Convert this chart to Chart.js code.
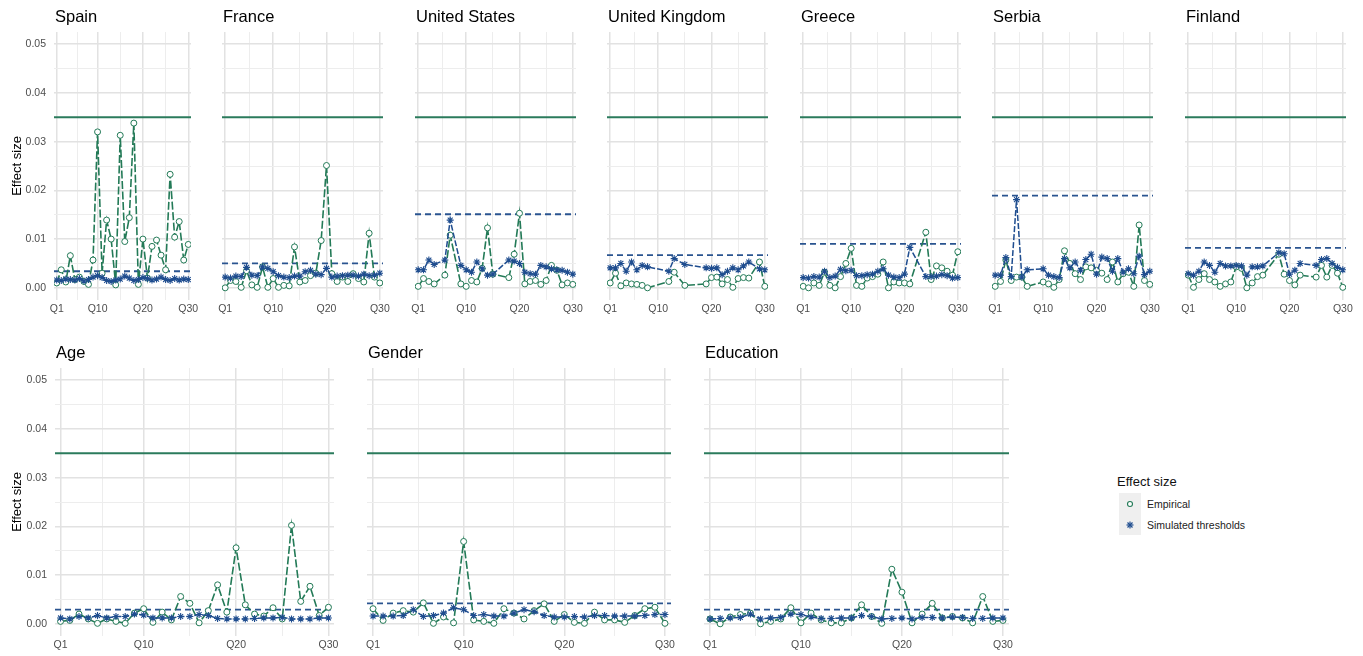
<!DOCTYPE html>
<html>
<head>
<meta charset="utf-8">
<script src="https://cdn.jsdelivr.net/npm/chart.js@4.4.1/dist/chart.umd.min.js"></script>
<style>
html,body{margin:0;padding:0;background:#fff;width:1363px;height:656px;overflow:hidden;font-family:"Liberation Sans",Arial,Helvetica,sans-serif;}
.panel{position:absolute;}
#legend{position:absolute;left:1117px;top:474px;color:#111;}
#legend .ttl{font-size:13px;margin-bottom:4px;}
#legend .row{display:flex;align-items:center;height:21px;}
#legend .key{width:22px;height:21px;background:#efefef;display:flex;align-items:center;justify-content:center;margin-left:2px;}
#legend .lab{font-size:10.5px;margin-left:6px;color:#222;}
</style>
</head>
<body>
<div id="legend">
  <div class="ttl">Effect size</div>
  <div class="row"><div class="key"><svg width="10" height="10"><circle cx="5" cy="5" r="2.5" fill="#fff" stroke="#237a57" stroke-width="1.1"/></svg></div><div class="lab">Empirical</div></div>
  <div class="row"><div class="key"><svg width="10" height="10"><g stroke="#1f4d8f" stroke-width="1.2"><line x1="5" y1="1.5" x2="5" y2="8.5"/><line x1="1.5" y1="5" x2="8.5" y2="5"/><line x1="2.5" y1="2.5" x2="7.5" y2="7.5"/><line x1="7.5" y1="2.5" x2="2.5" y2="7.5"/></g></svg></div><div class="lab">Simulated thresholds</div></div>
</div>
<script>
// ---------- categories & tick labels ----------
const questions = ['Q1','Q2','Q3','Q4','Q5','Q6','Q7','Q8','Q9','Q10','Q11','Q12','Q13','Q14','Q15',
                   'Q16','Q17','Q18','Q19','Q20','Q21','Q22','Q23','Q24','Q25','Q26','Q27','Q28','Q29','Q30'];
const xTickLabels = ['Q1','Q10','Q20','Q30'];
const yTickLabels = ['0.00','0.01','0.02','0.03','0.04','0.05'];
const panelNames = ['Spain','France','United States','United Kingdom','Greece','Serbia','Finland','Age','Gender','Education'];

// ---------- reference lines ----------
const largeEffect = 0.035;
const thresholds = [0.0034,0.0050,0.0151,0.0067,0.0090,0.0189,0.0082,0.0029,0.0042,0.0029];

// ---------- series values ----------
const spainEmpirical = [0.0010,0.0037,0.0012,0.0066,0.0017,0.0022,0.0013,0.0007,0.0057,0.0320,0.0030,0.0139,0.0100,0.0006,0.0313,0.0095,0.0144,0.0338,0.0007,0.0100,0.0020,0.0085,0.0098,0.0067,0.0037,0.0233,0.0104,0.0136,0.0057,0.0089];
const spainSimulated = [0.0016,0.0015,0.0018,0.0017,0.0016,0.0019,0.0014,0.0017,0.0022,0.0025,0.0021,0.0015,0.0013,0.0016,0.0018,0.0024,0.0020,0.0015,0.0017,0.0021,0.0019,0.0016,0.0018,0.0022,0.0017,0.0015,0.0019,0.0016,0.0018,0.0017];

const franceEmpirical = [0.0000,0.0015,0.0013,0.0001,0.0035,0.0006,0.0001,0.0043,0.0001,0.0019,0.0001,0.0005,0.0004,0.0084,0.0012,0.0015,0.0025,0.0030,0.0097,0.0251,0.0029,0.0013,0.0022,0.0013,0.0029,0.0019,0.0012,0.0112,0.0022,0.0010];
const franceSimulated = [0.0022,0.0020,0.0024,0.0023,0.0042,0.0026,0.0025,0.0043,0.0040,0.0033,0.0025,0.0022,0.0021,0.0024,0.0024,0.0033,0.0036,0.0028,0.0027,0.0040,0.0022,0.0024,0.0025,0.0026,0.0026,0.0024,0.0028,0.0025,0.0026,0.0030];

const usEmpirical = [0.0003,0.0019,0.0013,0.0008,null,0.0026,0.0108,null,0.0008,0.0003,0.0015,0.0012,0.0040,0.0123,0.0028,null,null,0.0021,0.0069,0.0153,0.0008,0.0013,0.0015,0.0007,0.0015,0.0046,0.0036,0.0006,0.0010,0.0007];
const usSimulated = [0.0037,0.0037,0.0057,0.0048,null,0.0057,0.0139,null,0.0046,0.0037,0.0032,0.0053,0.0039,0.0026,0.0028,null,null,0.0057,0.0055,0.0050,0.0032,0.0029,0.0028,0.0046,0.0043,0.0039,0.0037,0.0036,0.0032,0.0028];

const ukEmpirical = [0.0010,0.0030,0.0004,0.0010,0.0008,0.0007,0.0005,0.0000,null,null,null,0.0013,0.0032,null,0.0005,null,null,null,0.0008,0.0021,0.0022,0.0008,0.0017,0.0001,0.0019,0.0021,0.0020,null,0.0053,0.0003];
const ukSimulated = [0.0041,0.0041,0.0050,0.0034,0.0053,0.0037,0.0046,0.0043,null,null,null,0.0034,0.0060,null,0.0048,null,null,null,0.0041,0.0040,0.0041,0.0027,0.0034,0.0041,0.0037,0.0045,0.0053,null,0.0039,0.0037];

const greeceEmpirical = [0.0003,0.0000,0.0010,0.0005,0.0032,0.0005,0.0000,0.0023,0.0050,0.0081,0.0005,0.0003,0.0020,0.0023,0.0028,0.0053,0.0000,0.0012,0.0010,0.0010,0.0008,null,null,0.0114,0.0017,0.0045,0.0041,0.0034,0.0026,0.0074];
const greeceSimulated = [0.0021,0.0020,0.0023,0.0022,0.0034,0.0021,0.0024,0.0038,0.0035,0.0036,0.0025,0.0025,0.0027,0.0028,0.0034,0.0039,0.0026,0.0022,0.0021,0.0028,0.0083,null,null,0.0023,0.0023,0.0024,0.0027,0.0025,0.0020,0.0021];

const serbiaEmpirical = [0.0003,0.0013,0.0057,0.0015,0.0022,0.0022,0.0003,null,null,0.0012,0.0008,0.0001,0.0017,0.0076,0.0050,0.0029,0.0017,0.0043,0.0041,0.0036,0.0030,0.0017,0.0053,0.0012,0.0029,0.0032,0.0003,0.0129,0.0015,0.0007];
const serbiaSimulated = [0.0026,0.0026,0.0062,0.0023,0.0181,0.0022,0.0037,null,null,0.0039,0.0026,0.0023,0.0021,0.0060,0.0041,0.0053,0.0036,0.0058,0.0069,0.0028,0.0063,0.0060,0.0034,0.0060,0.0032,0.0039,0.0029,0.0065,0.0027,0.0034];

const finlandEmpirical = [0.0026,0.0001,0.0017,0.0029,0.0017,0.0012,0.0003,0.0008,0.0012,0.0043,0.0040,0.0000,0.0010,0.0023,0.0026,null,null,0.0069,0.0028,0.0015,0.0006,0.0026,null,null,0.0022,0.0046,0.0022,0.0046,0.0030,0.0001];
const finlandSimulated = [0.0029,0.0026,0.0034,0.0053,0.0046,0.0032,0.0050,0.0045,0.0045,0.0046,0.0045,0.0026,0.0043,0.0043,0.0045,null,null,0.0072,0.0070,0.0028,0.0036,0.0050,null,null,0.0046,0.0058,0.0060,0.0050,0.0042,0.0037];

const ageEmpirical = [0.0005,0.0007,0.0020,0.0010,0.0001,0.0010,0.0005,0.0001,0.0022,0.0031,0.0003,0.0024,0.0008,0.0056,0.0042,0.0002,0.0027,0.0080,0.0024,0.0156,0.0039,0.0020,0.0016,0.0033,0.0010,0.0202,0.0046,0.0077,0.0017,0.0034];
const ageSimulated = [0.0012,0.0010,0.0015,0.0012,0.0017,0.0012,0.0015,0.0015,0.0020,0.0018,0.0012,0.0012,0.0012,0.0015,0.0015,0.0019,0.0017,0.0011,0.0010,0.0010,0.0010,0.0011,0.0012,0.0012,0.0013,0.0010,0.0010,0.0010,0.0012,0.0012];

const genderEmpirical = [0.0031,0.0007,0.0022,0.0027,0.0024,0.0043,0.0001,0.0014,0.0002,0.0169,0.0008,0.0005,0.0001,0.0031,0.0022,0.0010,0.0027,0.0041,0.0005,0.0019,0.0003,0.0001,0.0024,0.0008,0.0008,0.0003,0.0017,0.0031,0.0034,0.0001];
const genderSimulated = [0.0016,0.0016,0.0016,0.0017,0.0029,0.0015,0.0017,0.0022,0.0033,0.0029,0.0017,0.0019,0.0016,0.0016,0.0022,0.0029,0.0025,0.0017,0.0014,0.0014,0.0015,0.0014,0.0017,0.0017,0.0016,0.0016,0.0016,0.0017,0.0019,0.0019];

const educationEmpirical = [0.0010,0.0000,0.0014,0.0019,0.0022,0.0000,0.0005,0.0010,0.0033,0.0002,0.0022,0.0008,0.0002,0.0002,0.0012,0.0039,0.0015,0.0001,0.0112,0.0065,0.0002,0.0020,0.0042,0.0012,0.0015,0.0012,0.0002,0.0056,0.0005,0.0007];
const educationSimulated = [0.0010,0.0011,0.0012,0.0013,0.0020,0.0010,0.0012,0.0013,0.0020,0.0019,0.0014,0.0011,0.0011,0.0012,0.0012,0.0017,0.0015,0.0010,0.0011,0.0012,0.0010,0.0013,0.0013,0.0012,0.0014,0.0013,0.0011,0.0011,0.0012,0.0012];

const empiricalSeries = [spainEmpirical,franceEmpirical,usEmpirical,ukEmpirical,greeceEmpirical,serbiaEmpirical,finlandEmpirical,ageEmpirical,genderEmpirical,educationEmpirical];
const simulatedSeries = [spainSimulated,franceSimulated,usSimulated,ukSimulated,greeceSimulated,serbiaSimulated,finlandSimulated,ageSimulated,genderSimulated,educationSimulated];

// ---------- layout (pixels) ----------
// [canvasLeft, canvasTop, padLeft, yAxisWidth, plotWidth, showY]
const layout = [
  [0,0,11,43,137,true],
  [212,0,10,0,161,false],
  [405,0,10,0,161,false],
  [597,0,10,0,161,false],
  [790,0,10,0,161,false],
  [982,0,10,0,161,false],
  [1175,0,10,0,161,false],
  [0,336,11,44,279,true],
  [357,336,10,0,304,false],
  [694,336,10,0,305,false]
];

const FONT = '"Liberation Sans", Arial, Helvetica, sans-serif';
const GREEN = '#237a57';
const BLUE = '#1f4d8f';
const X_MIN = 0.4, X_MAX = questions.length + 0.6;
const Y_MIN = -0.0025, Y_MAX = 0.0525;

const xMajor = xTickLabels.map(l => questions.indexOf(l) + 1);
const xMinor = xMajor.slice(1).map((v,i) => (v + xMajor[i]) / 2);
const yMajor = yTickLabels.map(parseFloat);
const yMinor = yMajor.slice(1).map((v,i) => (v + yMajor[i]) / 2);

function toPoints(arr){ return arr.map((v,i) => ({x: i + 1, y: v})); }
function isMajor(list, v){ return list.some(m => Math.abs(m - v) < 1e-9); }

// panel title drawn at the left edge of the plotting area (like ggplot)
const panelTitle = {
  id: 'panelTitle',
  afterDraw(chart, args, opts) {
    const ctx = chart.ctx;
    ctx.save();
    ctx.font = '16.5px ' + FONT;
    ctx.fillStyle = '#000';
    ctx.textAlign = 'left';
    ctx.textBaseline = 'middle';
    ctx.fillText(opts.text, chart.chartArea.left + 1, 17);
    ctx.restore();
  }
};

panelNames.forEach((name, k) => {
  const [cl, ct, padL, yW, plotW, showY] = layout[k];
  const padR = 12;
  const W = padL + yW + plotW + padR;
  const H = 320;
  const div = document.createElement('div');
  div.className = 'panel';
  div.style.left = cl + 'px';
  div.style.top = ct + 'px';
  div.style.width = W + 'px';
  div.style.height = H + 'px';
  const c = document.createElement('canvas');
  c.width = W; c.height = H;
  c.style.width = W + 'px'; c.style.height = H + 'px';
  div.appendChild(c);
  document.body.appendChild(div);

  new Chart(c, {
    type: 'line',
    plugins: [panelTitle],
    data: {
      datasets: [
        {
          label: 'Simulated thresholds',
          data: toPoints(simulatedSeries[k]),
          borderColor: BLUE, backgroundColor: BLUE,
          borderWidth: 1.5, borderDash: [6, 2],
          pointStyle: 'star', pointRadius: 3.5, pointBorderWidth: 1.1,
          pointBorderColor: BLUE, spanGaps: true, order: 1, tension: 0
        },
        {
          label: 'Empirical',
          data: toPoints(empiricalSeries[k]),
          borderColor: GREEN, backgroundColor: '#fff',
          borderWidth: 1.6, borderDash: [8, 2.5],
          pointStyle: 'circle', pointRadius: 3, pointBorderWidth: 1,
          pointBorderColor: GREEN, pointBackgroundColor: '#fff',
          spanGaps: true, order: 2, tension: 0
        },
        {
          label: 'large',
          data: [{x: X_MIN, y: largeEffect}, {x: X_MAX, y: largeEffect}],
          borderColor: '#2b7b5c', borderWidth: 2, pointRadius: 0, order: 3
        },
        {
          label: 'threshold',
          data: [{x: X_MIN, y: thresholds[k]}, {x: X_MAX, y: thresholds[k]}],
          borderColor: '#2a5490', borderWidth: 1.8, borderDash: [6, 4], pointRadius: 0, order: 3
        }
      ]
    },
    options: {
      responsive: false,
      animation: false,
      devicePixelRatio: 1,
      layout: { padding: { left: padL, right: padR, top: 32, bottom: 0 } },
      plugins: {
        legend: { display: false },
        tooltip: { enabled: false },
        title: { display: false },
        panelTitle: { text: name }
      },
      scales: {
        x: {
          type: 'linear', min: X_MIN, max: X_MAX,
          afterBuildTicks: s => { s.ticks = xMajor.concat(xMinor).sort((a,b)=>a-b).map(v => ({value: v})); },
          afterFit: s => { s.height = 20; },
          ticks: {
            autoSkip: false, maxRotation: 0, padding: 3, color: '#4d4d4d',
            font: { family: FONT, size: 10.5 },
            callback: v => isMajor(xMajor, v) ? questions[Math.round(v) - 1] : ''
          },
          grid: {
            drawTicks: false,
            color: ctx => isMajor(xMajor, ctx.tick.value) ? '#e2e2e2' : '#ededed',
            lineWidth: ctx => isMajor(xMajor, ctx.tick.value) ? 1.5 : 1
          },
          border: { display: false }
        },
        y: {
          type: 'linear', min: Y_MIN, max: Y_MAX,
          afterBuildTicks: s => { s.ticks = yMajor.concat(yMinor).sort((a,b)=>a-b).map(v => ({value: v})); },
          afterFit: s => { s.width = yW; },
          title: {
            display: showY, text: 'Effect size', color: '#000',
            font: { family: FONT, size: 13, lineHeight: 1 }, padding: 0
          },
          ticks: {
            display: showY, autoSkip: false, padding: 8, color: '#4d4d4d',
            font: { family: FONT, size: 10.5 },
            callback: v => { const i = yMajor.findIndex(m => Math.abs(m - v) < 1e-9); return i >= 0 ? yTickLabels[i] : ''; }
          },
          grid: {
            drawTicks: false,
            color: ctx => isMajor(yMajor, ctx.tick.value) ? '#e2e2e2' : '#ededed',
            lineWidth: ctx => isMajor(yMajor, ctx.tick.value) ? 1.5 : 1
          },
          border: { display: false }
        }
      }
    }
  });
});
</script>
</body>
</html>
